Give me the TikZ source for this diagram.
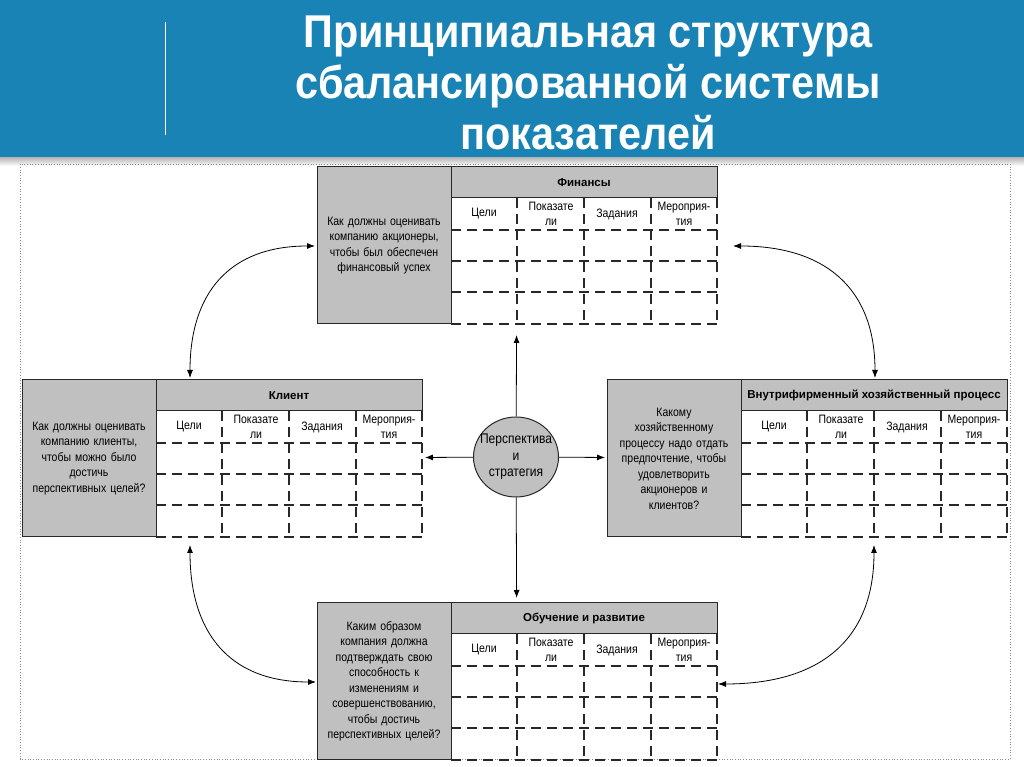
\documentclass[tikz,border=0pt]{standalone}
\usepackage{fontspec}
\setmainfont{Liberation Sans}
\newfontfamily\titlefont[FakeStretch=0.9]{Liberation Sans}
\newfontfamily\cellfont[FakeStretch=0.86]{Liberation Sans}
\usetikzlibrary{arrows.meta}
\usetikzlibrary{calc}
\usetikzlibrary{positioning}
\usetikzlibrary{shapes.geometric}

\definecolor{bandblue}{RGB}{24,131,180}
\definecolor{cellgray}{RGB}{192,192,192}
\definecolor{linegray}{RGB}{40,40,40}

\tikzstyle{blockbox} = [minimum width=400pt, minimum height=157pt, inner sep=0pt, outer sep=0pt]
\tikzstyle{question} = [draw=linegray, line width=1pt, fill=cellgray, minimum width=134pt, minimum height=157pt, text width=130pt, inner sep=0pt, align=center, font=\cellfont\fontsize{12.2}{15.5}\selectfont]
\tikzstyle{titlebar} = [draw=linegray, line width=1pt, fill=cellgray, minimum width=266pt, minimum height=31pt, inner sep=0pt, font=\bfseries\fontsize{11.5}{13}\selectfont]
\tikzstyle{colname} = [align=center, inner sep=0pt, font=\cellfont\fontsize{12.2}{15}\selectfont]
\tikzstyle{dashline} = [draw=linegray, line width=1.3pt, dash pattern=on 10pt off 6pt]
\tikzstyle{arrow} = [line width=0.8pt, -{Latex[length=8pt,width=6pt]}]
\tikzstyle{darrow} = [line width=0.8pt, {Latex[length=8pt,width=6pt]}-{Latex[length=8pt,width=6pt]}]

% one perspective: gray question cell, title bar and dashed table
\newcommand{\bscblock}[4]{%
  \begin{scope}[shift={#2}]
    \node[blockbox] (#1) at (200,-78.5) {};
    \node[question] (#1-q) at (67,-78.5) {#4};
    \node[titlebar] (#1-h) at (267,-15.5) {#3};
    \foreach \y in {63,94,125,157}
      \draw[dashline] (134,-\y) -- (400,-\y);
    \foreach \x in {200,267,334,400}
      \draw[dashline] (\x,-31) -- (\x,-157);
    \foreach \x/\t [count=\i] in {167/Цели, 234/{Показате\\ли}, 300/Задания, 367/{Мероприя-\\тия}}
      \node[colname] (#1-c\i) at (\x,-47) {\t};
  \end{scope}}

\begin{document}
\begin{tikzpicture}[x=1pt,y=1pt]

    \useasboundingbox (0,0) rectangle (1024,767);

    % title band
    \shade[top color=black!30, bottom color=white] (0,601) rectangle (1024,610);
    \fill[bandblue] (0,610) rectangle (1024,767);
    \draw[white, line width=0.8pt] (165,745) -- (165,632);
    \node[align=center, text=white, font=\titlefont\bfseries\fontsize{46}{51}\selectfont] (title) at (588,684)
        {Принципиальная структура\\сбалансированной системы\\показателей};

    % dotted frame
    \draw[black!45, dotted, line width=0.7pt] (20,8) rectangle (1010,603);

    % the four perspectives
    \bscblock{fin}{(317,600)}{Финансы}{Как должны оценивать\\компанию акционеры,\\чтобы был обеспечен\\финансовый успех}
    \bscblock{cli}{(22,387)}{Клиент}{Как должны оценивать\\компанию клиенты,\\чтобы можно было\\достичь\\перспективных целей?}
    \bscblock{prc}{(607,387)}{Внутрифирменный хозяйственный процесс}{Какому\\хозяйственному\\процессу надо отдать\\предпочтение, чтобы\\удовлетворить\\акционеров и\\клиентов?}
    \bscblock{lrn}{(317,164)}{Обучение и развитие}{Каким образом\\компания должна\\подтверждать свою\\способность к\\изменениям и\\совершенствованию,\\чтобы достичь\\перспективных целей?}

    % centre
    \node[ellipse, draw=linegray, line width=1pt, fill=cellgray, minimum width=85pt, minimum height=80pt,
          inner xsep=-9pt, inner ysep=0pt, align=center, font=\cellfont\fontsize{14}{16.5}\selectfont] (strat) at (516,310)
        {Перспектива\\и\\стратегия};

    \draw[arrow, shorten >=11pt] (strat) -- (fin);
    \draw[arrow, shorten >=3pt] (strat) -- (cli);
    \draw[arrow, shorten >=2pt] (strat) -- (prc);
    \draw[arrow, shorten >=5pt] (strat) -- (lrn);

    % links between neighbouring perspectives
    \coordinate (a1) at ([xshift=168pt,yshift=2pt]cli.north west);
    \coordinate (a2) at ([xshift=-2pt,yshift=-79pt]fin.north west);
    \coordinate (b1) at ([xshift=16pt,yshift=-79pt]fin.north east);
    \coordinate (b2) at ([xshift=268pt,yshift=2pt]prc.north west);
    \coordinate (c1) at ([xshift=168pt,yshift=-8pt]cli.south west);
    \coordinate (c2) at ([xshift=-1pt,yshift=-79pt]lrn.north west);
    \coordinate (d1) at ([xshift=267pt,yshift=-8pt]prc.south west);
    \coordinate (d2) at ([xshift=1pt,yshift=-81pt]lrn.north east);

    \draw[darrow] (a1) to[out=90,in=180,looseness=1.2] (a2);
    \draw[darrow] (b1) to[out=0,in=90,looseness=1.2] (b2);
    \draw[darrow] (c1) to[out=-90,in=180,looseness=1.2] (c2);
    \draw[darrow] (d1) to[out=-90,in=0,looseness=1.2] (d2);

\end{tikzpicture}
\end{document}
